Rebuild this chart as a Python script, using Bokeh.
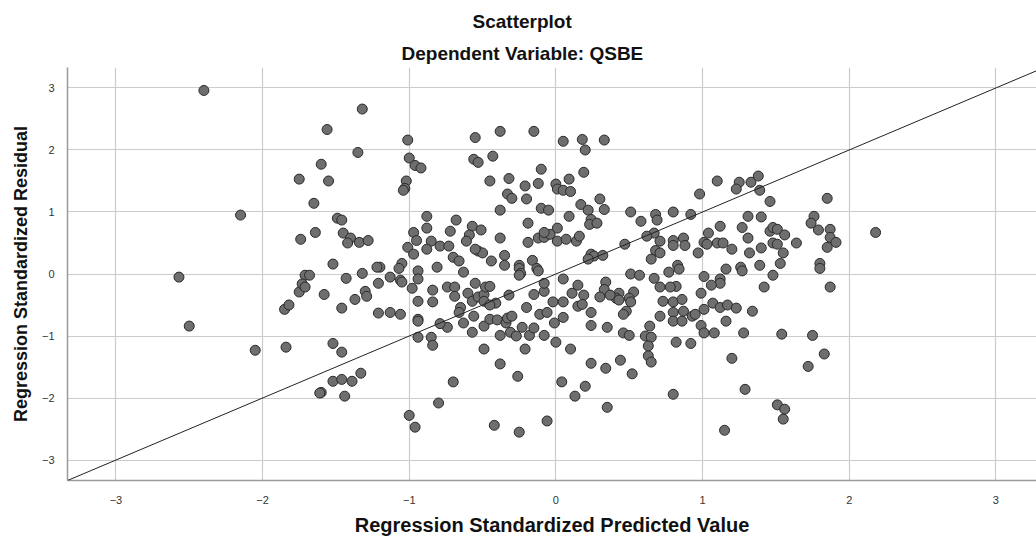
from bokeh.plotting import figure
from bokeh.models import ColumnDataSource, Slope, Title, FixedTicker, Range1d
from bokeh.embed import file_html
from bokeh.resources import INLINE

title_text = "Scatterplot"
subtitle_text = "Dependent Variable: QSBE"
x_label = "Regression Standardized Predicted Value"
y_label = "Regression Standardized Residual"
tick_values = [-3, -2, -1, 0, 1, 2, 3]

# Regression standardized predicted value (x) and residual (y)
pred_std = [
    -2.40, -1.56, -1.60, -1.75, -1.55, -1.65, -2.15, -1.49, -1.46, -1.64, -1.74, -1.45, -1.40, -1.42, -1.52,
    -2.57, -1.71, -1.68, -1.43, -2.50, -2.05, -1.84, -1.52, -1.46, -1.52, -1.46, -1.60, -1.61, -1.44, -1.85,
    -1.82, -1.75, -1.73, -1.71, -1.58, -1.46,
    -1.32, -1.35, -1.01, -1.00, -0.96, -0.92, -1.02, -1.03, -1.04, -0.55, -0.38, -0.15, 0.05, 0.18, 0.20,
    -0.56, -0.53, -0.43, -0.45, -0.32, -0.10, -0.21, -0.12, 0.00, 0.01, 0.05, 0.09, 0.10, 0.19, -0.33, -0.30,
    -0.20, -0.38, -0.10, -0.05, 0.17, 0.22, 0.09, 0.24, 0.23, 0.28, -0.19, -0.68, -0.88, 0.01, 0.14, 0.16,
    0.01, 0.07, -0.12, -0.08, -0.04, -0.08, -0.19, -0.38, -0.57, -0.51, -0.59, -0.61, -0.72, -0.88, -0.97,
    -0.95, -0.85, -0.88, -1.01, -0.97, -0.79, -0.73, -0.70, -0.66, -0.53, -0.50, -0.55, -0.44, -0.35, -0.35,
    -0.25, -0.25, -0.16, -0.13, -1.05, -1.07, -1.20, -1.22, -1.34, -1.28, 0.24, 0.26, 0.22, -0.81,
    0.33, 0.30, 0.33, 1.10, 1.25, 1.23, 1.33, 1.38, 1.39, 1.46, 0.98, 1.85, 0.51, 0.68, 0.69, 0.80, 0.92,
    0.58, 1.31, 1.40, 1.76, 1.74, 1.04, 1.12, 1.27, 1.46, 1.48, 1.51, 1.56, 1.79, 1.87, 1.87, 1.91, 1.85,
    2.18, 1.64, 1.31, 1.48, 1.51, 1.40, 1.55, 1.53, 1.32, 1.20, 1.16, 1.26, 1.39, 1.80, 1.80, 1.01, 1.03,
    1.10, 1.14, 0.97, 0.87, 0.88, 0.80, 0.80, 0.71, 0.67, 0.62, 0.47, 0.68, 0.71, 0.65, 0.83, 0.84, 0.32,
    -1.32, -1.21, -1.13, -1.06, -1.05, -0.94, -0.94, -0.98, -0.84, -0.84, -0.94, -0.94, -0.94, -0.74, -0.69,
    -0.69, -0.60, -0.63, -0.55, -0.57, -0.53, -0.49, -0.48, -0.45, -0.49, -0.41, -0.45, -0.65, -0.66, -0.56,
    -0.63, -0.74, -0.57, -0.49, -0.45, -0.40, -0.34, -0.33, -0.30, -0.38, -0.31, -0.27, -0.23, -0.18, -0.15,
    -0.08, -0.20, -0.11, -0.06, -0.01, 0.05, -0.02, 0.05, -0.15, -0.08, -0.08, -0.32, -0.24, -0.25, -0.12,
    0.05, 0.11, 0.15, 0.19, 0.15, 0.18, 0.24, 0.24, 0.00, 0.10, -0.49, -0.21, -0.38, -0.26, 0.04, 0.24, 0.20,
    0.13, -0.70, -0.80, -1.00, -0.96, -0.42, -0.25, -0.06, -0.94, -0.85, -0.84, -1.39, -1.33, -1.37, -1.30,
    -1.29, -1.21, -1.13, -1.06, -0.79,
    0.51, 0.57, 0.67, 0.77, 1.01, 1.12, 1.12, 1.27, 1.48, 1.87, 1.42, 1.06, 0.82, 0.78, 0.71, 0.34, 0.33,
    0.43, 0.53, 0.50, 0.51, 0.41, 0.37, 0.43, 0.30, 0.99, 0.73, 0.80, 0.86, 0.80, 0.87, 0.93, 0.95, 0.71,
    0.80, 0.86, 0.99, 1.01, 1.07, 1.12, 1.17, 1.23, 1.16, 1.34, 1.01, 1.08, 1.28, 1.54, 1.75, 0.35, 0.46,
    0.50, 0.48, 0.46, 0.64, 0.61, 0.65, 0.63, 0.63, 0.65, 0.82, 0.92, 0.44, 0.34, 0.52, 1.20, 1.29, 1.72,
    1.83, 0.80, 0.35, 1.51, 1.56, 1.55, 1.15,
]
resid_std = [
    2.96, 2.33, 1.77, 1.53, 1.50, 1.14, 0.95, 0.90, 0.87, 0.67, 0.56, 0.66, 0.58, 0.50, 0.16,
    -0.05, -0.02, -0.02, -0.07, -0.84, -1.23, -1.18, -1.12, -1.26, -1.73, -1.70, -1.91, -1.92, -1.97, -0.57,
    -0.50, -0.29, -0.16, -0.21, -0.33, -0.55,
    2.66, 1.96, 2.16, 1.87, 1.75, 1.71, 1.50, 1.38, 1.35, 2.20, 2.30, 2.30, 2.14, 2.17, 2.00,
    1.85, 1.80, 1.90, 1.50, 1.54, 1.69, 1.42, 1.46, 1.45, 1.37, 1.35, 1.53, 1.33, 1.64, 1.29, 1.22,
    1.21, 1.03, 1.06, 1.03, 1.12, 1.03, 0.93, 0.88, 0.80, 0.82, 0.82, 0.87, 0.93, 0.74, 0.53, 0.61,
    0.53, 0.56, 0.58, 0.59, 0.64, 0.67, 0.51, 0.58, 0.77, 0.71, 0.63, 0.53, 0.69, 0.74, 0.67,
    0.54, 0.53, 0.40, 0.43, 0.32, 0.45, 0.45, 0.27, 0.21, 0.37, 0.34, 0.40, 0.21, 0.30, 0.14,
    0.14, 0.09, 0.22, 0.09, 0.17, 0.09, 0.11, 0.11, 0.51, 0.54, 0.32, 0.29, 0.24, 0.11,
    2.16, 1.21, 1.04, 1.50, 1.48, 1.37, 1.48, 1.58, 1.35, 1.17, 1.29, 1.22, 1.00, 0.96, 0.87, 1.00, 0.96,
    0.85, 0.93, 0.92, 0.93, 0.82, 0.66, 0.77, 0.75, 0.69, 0.75, 0.72, 0.63, 0.71, 0.72, 0.59, 0.51, 0.43,
    0.67, 0.50, 0.58, 0.50, 0.48, 0.42, 0.34, 0.17, 0.34, 0.40, 0.08, 0.11, 0.14, 0.17, 0.09, 0.51, 0.48,
    0.50, 0.50, 0.34, 0.58, 0.46, 0.54, 0.46, 0.53, 0.66, 0.61, 0.48, 0.38, 0.34, 0.24, 0.14, 0.08, 0.30,
    0.01, -0.15, -0.05, -0.10, -0.13, 0.05, -0.08, -0.23, -0.26, -0.45, -0.44, -0.73, -0.76, -0.21, -0.21,
    -0.36, -0.31, 0.03, -0.15, -0.44, -0.37, -0.33, -0.21, -0.20, -0.44, -0.47, -0.50, -0.54, -0.62, -0.68,
    -0.79, -0.86, -0.94, -0.84, -0.73, -0.74, -0.79, -0.71, -0.68, -0.99, -0.94, -1.00, -0.86, -0.99, -0.87,
    -0.99, -0.54, -0.65, -0.62, -0.79, -0.70, -0.45, -0.45, -0.33, -0.28, -0.15, -0.34, 0.01, -0.02, 0.05,
    -0.08, -0.31, -0.18, -0.34, -0.52, -0.49, -0.62, -0.83, -1.10, -1.21, -1.21, -1.21, -1.45, -1.65, -1.74, -1.44, -1.81,
    -1.97, -1.74, -2.08, -2.28, -2.47, -2.44, -2.55, -2.37, -1.02, -1.02, -1.15, -1.73, -1.60, -0.41, -0.28,
    -0.36, -0.63, -0.62, -0.65, -0.80,
    0.00, -0.02, -0.07, 0.03, -0.04, -0.08, -0.15, 0.05, -0.02, -0.21, -0.21, -0.18, -0.20, -0.21, -0.21, -0.13, -0.25,
    -0.31, -0.29, -0.39, -0.45, -0.39, -0.34, -0.42, -0.37, -0.31, -0.44, -0.45, -0.41, -0.62, -0.60, -0.68, -0.65, -0.68,
    -0.76, -0.76, -0.83, -0.57, -0.47, -0.54, -0.50, -0.55, -0.76, -0.60, -0.95, -0.95, -0.95, -0.97, -0.99, -0.86, -0.95,
    -0.99, -0.60, -0.65, -0.84, -1.00, -1.02, -1.16, -1.32, -1.42, -1.10, -1.12, -1.39, -1.52, -1.61, -1.36, -1.86, -1.49,
    -1.29, -1.94, -2.15, -2.11, -2.18, -2.34, -2.52,
]

n = min(len(pred_std), len(resid_std))
src = ColumnDataSource(data=dict(x=pred_std[:n], y=resid_std[:n]))

FONT = "Liberation Sans"

p = figure(width=1036, height=538, output_backend="svg", toolbar_location=None,
           x_range=Range1d(-3.33, 3.277), y_range=Range1d(-3.33, 3.33),
           min_border_left=67, min_border_right=0, min_border_top=67, min_border_bottom=58)
p.outline_line_color = None
p.background_fill_color = "white"
p.border_fill_color = "white"

for ax in (p.xaxis[0], p.yaxis[0]):
    ax.ticker = FixedTicker(ticks=tick_values)
    ax.axis_line_color = "#9a9a9a"
    ax.axis_line_width = 1.5
    ax.major_tick_line_color = None
    ax.minor_tick_line_color = None
    ax.major_label_text_font = FONT
    ax.major_label_text_font_size = "11px"
    ax.major_label_text_color = "#333333"
    ax.axis_label_text_font = FONT
    ax.axis_label_text_font_style = "bold"
    ax.axis_label_text_color = "#111111"

p.xaxis.axis_label = x_label
p.yaxis.axis_label = y_label
p.xaxis.axis_label_text_font_size = "20px"
p.yaxis.axis_label_text_font_size = "18px"
p.xaxis.major_label_standoff = 9
p.xaxis.axis_label_standoff = 7
p.yaxis.major_label_standoff = 7
p.yaxis.axis_label_standoff = 8

p.xgrid.ticker = FixedTicker(ticks=tick_values)
p.ygrid.ticker = FixedTicker(ticks=tick_values)
p.grid.grid_line_color = "#cccccc"
p.grid.grid_line_width = 1.2

p.add_layout(Slope(gradient=1, y_intercept=0, line_color="#222222", line_width=1))

p.scatter("x", "y", source=src, size=10, marker="circle",
          fill_color="#6e6e6e", line_color="#2a2a2a", line_width=1)

# subtitle first (closest to the frame), then the main title above it
p.add_layout(Title(text=subtitle_text, align="left", offset=334, standoff=7,
                   text_font=FONT, text_font_style="bold", text_font_size="19px",
                   text_color="#111111"), "above")
p.add_layout(Title(text=title_text, align="left", offset=405, standoff=12,
                   text_font=FONT, text_font_style="bold", text_font_size="19px",
                   text_color="#111111"), "above")

open("out.html", "w").write(file_html(p, INLINE))
